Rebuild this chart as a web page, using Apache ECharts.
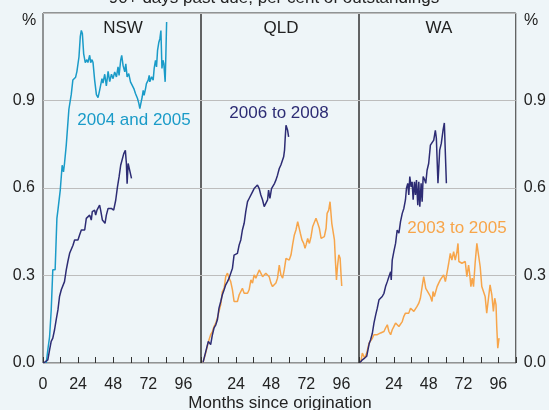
<!DOCTYPE html>
<html>
<head>
<meta charset="utf-8">
<script src="https://cdn.jsdelivr.net/npm/echarts@6/dist/echarts.min.js"></script>
<style>
  html, body { margin: 0; padding: 0; background: #eef5f8; }
  #chart { width: 549px; height: 410px; }
</style>
</head>
<body>
<div id="chart"></div>
<script>
// [months since origination, per cent]
var nswEarly = [
  [2.2, 0], [3.3, 0.045], [4.5, 0.09], [5.6, 0.18], [6.7, 0.32], [8.3, 0.32], [9.5, 0.496],
  [10.2, 0.524], [11.8, 0.593], [13.1, 0.678], [14, 0.655], [14.7, 0.684], [15.9, 0.747],
  [17.7, 0.87], [19.3, 0.92], [20.4, 0.97], [22.3, 0.98], [23.2, 1.0], [24.6, 1.05],
  [25.5, 1.12], [26.2, 1.14], [26.9, 1.13], [27.8, 1.06], [28.9, 1.03], [30, 1.04],
  [30.7, 1.03], [31.9, 1.055], [32.6, 1.03], [33.5, 1.04], [34.2, 1.03], [35.3, 0.97],
  [36.5, 0.92], [37.6, 0.91], [38.7, 0.935], [40.3, 0.975], [41, 0.96], [42.2, 0.99],
  [43.3, 0.95], [44.5, 1.0], [45.6, 0.965], [46.8, 0.99], [47.9, 0.975], [49, 0.998],
  [50.2, 0.981], [51.3, 1.015], [52, 0.986], [53.1, 1.038], [53.8, 1.055], [54.7, 1.021],
  [55.9, 0.998], [56.6, 1.026], [57.5, 0.981], [58.6, 0.992], [59.8, 0.964], [60.9, 0.97],
  [62.1, 0.941], [63.2, 0.924], [63.9, 0.93], [64.6, 0.907], [65.5, 0.89], [66.2, 0.872],
  [66.9, 0.89], [67.8, 0.912], [68.5, 0.935], [69.1, 0.918], [70.1, 0.941], [70.7, 0.958],
  [71.9, 0.97], [72.6, 0.986], [73, 0.964], [74.2, 0.981], [75.3, 0.97], [76, 1.01],
  [76.9, 1.038], [77.6, 1.015], [78.3, 1.072], [79.2, 1.1], [79.9, 1.112], [80.6, 1.14],
  [81.3, 1.01], [82, 1.038], [82.6, 1.026], [83.5, 0.964], [84, 1.06], [84.5, 1.169]
];
var nswLate = [
  [0.3, 0], [3.3, 0.011], [4.5, 0.045], [5.6, 0.074], [6.7, 0.085], [7.9, 0.114], [9, 0.148],
  [10.2, 0.182], [11.3, 0.228], [12.5, 0.251], [13.6, 0.256], [14.7, 0.279], [15.9, 0.319],
  [17, 0.348], [18.2, 0.376], [19.3, 0.37], [20.5, 0.404], [21.6, 0.422], [22.7, 0.416],
  [23.9, 0.422], [25, 0.439], [26.2, 0.456], [27.3, 0.45], [28.5, 0.456], [29.6, 0.496],
  [30.7, 0.502], [31.9, 0.507], [33, 0.49], [33.7, 0.519], [34.6, 0.513], [35.3, 0.524],
  [36, 0.507], [36.9, 0.524], [37.6, 0.519], [38.7, 0.541], [39.4, 0.524], [40.6, 0.49],
  [41.7, 0.496], [42.4, 0.479], [43.3, 0.507], [44.5, 0.53], [46.7, 0.53], [48.3, 0.524],
  [49.7, 0.558], [50.9, 0.604], [52, 0.638], [53.1, 0.678], [54.3, 0.678], [55.2, 0.718],
  [56.3, 0.729], [57, 0.684], [57.5, 0.615], [58.2, 0.684], [59.3, 0.678], [60.5, 0.633]
];
var qldLate = [
  [1.4, 0.002], [2.7, 0.028], [3.7, 0.034], [5, 0.074], [6.6, 0.063], [7.8, 0.097], [8.9, 0.12],
  [10.1, 0.131], [11.2, 0.148], [12.3, 0.188], [13.5, 0.211], [14.6, 0.234], [15.8, 0.251],
  [16.9, 0.268], [18.1, 0.279], [19.2, 0.291], [20.3, 0.296], [21.5, 0.325], [22.6, 0.37],
  [23.8, 0.376], [24.9, 0.376], [26.1, 0.405], [27.2, 0.422], [28.3, 0.456], [29.5, 0.479],
  [30.6, 0.519], [31.8, 0.553], [32.9, 0.564], [34.1, 0.564], [35.2, 0.587], [36.3, 0.598],
  [37.5, 0.604], [38.6, 0.61], [39.8, 0.598], [40.9, 0.576], [42.1, 0.559], [43.2, 0.536],
  [44.3, 0.541], [45.5, 0.559], [46.2, 0.593], [47.1, 0.564], [48.2, 0.598], [49.4, 0.598],
  [50.3, 0.616], [51.2, 0.627], [52.3, 0.644], [53.5, 0.667], [54.6, 0.679], [55.8, 0.673],
  [56.5, 0.707], [57.1, 0.73], [57.6, 0.775], [58.1, 0.815], [58.5, 0.821], [59.2, 0.798],
  [59.9, 0.775]
];
var qldEarly = [
  [1.4, 0.002], [3.2, 0.034], [4.3, 0.057], [5.5, 0.08], [6.6, 0.097], [7.8, 0.108], [8.9, 0.125],
  [10.1, 0.137], [11.2, 0.154], [12.3, 0.177], [13.5, 0.2], [14.6, 0.245], [15.8, 0.256],
  [16.9, 0.296], [18.1, 0.308], [19.2, 0.291], [20.3, 0.279], [21.5, 0.251], [22.6, 0.211],
  [23.8, 0.205], [24.9, 0.211], [26.1, 0.234], [27.2, 0.228], [28.3, 0.256], [29.5, 0.239],
  [30.6, 0.245], [31.8, 0.239], [32.9, 0.251], [34.1, 0.285], [35.2, 0.274], [36.3, 0.302],
  [37.5, 0.291], [38.6, 0.296], [39.8, 0.319], [40.9, 0.319], [42.1, 0.296], [43.2, 0.291],
  [44.3, 0.308], [45.5, 0.313], [46.6, 0.296], [47.8, 0.274], [48.9, 0.262], [50.1, 0.262],
  [51.2, 0.274], [52.3, 0.291], [53.5, 0.336], [54.6, 0.302], [55.8, 0.291], [56.9, 0.319],
  [58.1, 0.359], [59.2, 0.353], [60.3, 0.353], [61.5, 0.37], [62.6, 0.405], [63.8, 0.439],
  [64.9, 0.456], [66.1, 0.485], [67.2, 0.485], [67.9, 0.445], [69, 0.422], [70.2, 0.41],
  [71.1, 0.393], [71.8, 0.405], [72.9, 0.427], [74.1, 0.41], [75.2, 0.433], [76.3, 0.467],
  [77.5, 0.462], [78.6, 0.496], [79.8, 0.479], [80.9, 0.462], [82.1, 0.427], [83.2, 0.422],
  [84.3, 0.433], [85.5, 0.462], [86.2, 0.513], [87.3, 0.524], [88.2, 0.553], [89.4, 0.479],
  [90.5, 0.479], [91.2, 0.422], [91.9, 0.348], [92.6, 0.285], [93.3, 0.331], [94.2, 0.371],
  [95.1, 0.359], [95.8, 0.296], [96.2, 0.264]
];
var waLate = [
  [0.7, 0.002], [2.3, 0.011], [3.9, 0.017], [5.3, 0.023], [6.2, 0.046], [7.1, 0.068], [8, 0.08],
  [9.2, 0.102], [10.3, 0.137], [11.5, 0.165], [12.6, 0.188], [13.8, 0.217], [14.9, 0.222],
  [16, 0.228], [17.2, 0.239], [18.3, 0.262], [19.5, 0.279], [20.6, 0.296], [21.8, 0.313],
  [22.2, 0.285], [22.9, 0.353], [24, 0.382], [25.2, 0.41], [26.3, 0.456], [27.5, 0.445],
  [28.6, 0.485], [29.8, 0.513], [30.9, 0.53], [32, 0.559], [32.7, 0.599], [33.6, 0.616],
  [34.3, 0.576], [35, 0.639], [35.9, 0.604], [36.6, 0.621], [37.3, 0.56], [38.2, 0.621],
  [38.9, 0.576], [39.6, 0.627], [40.5, 0.541], [41.2, 0.621], [41.9, 0.536], [42.8, 0.616],
  [43.5, 0.553], [44.2, 0.639], [45.3, 0.627], [46, 0.616], [46.9, 0.661], [48, 0.684],
  [49.2, 0.747], [50.3, 0.753], [51.5, 0.764], [52.6, 0.798], [53.3, 0.77], [54.4, 0.616],
  [55.6, 0.73], [56.7, 0.753], [57.9, 0.798], [58.8, 0.823], [59.5, 0.718], [60.2, 0.616]
];
var waEarly = [
  [1.2, 0.002], [2.3, 0.034], [3.5, 0.04], [3.9, 0.017], [5.3, 0.034], [6.9, 0.068], [8, 0.068],
  [9.2, 0.085], [10.3, 0.097], [11.5, 0.103], [12.6, 0.097], [13.8, 0.091], [14.9, 0.103],
  [16, 0.097], [17.2, 0.108], [18.3, 0.12], [19.5, 0.131], [20.6, 0.108], [21.8, 0.097],
  [22.9, 0.114], [24, 0.125], [25.2, 0.137], [26.3, 0.134], [27.5, 0.125], [28.6, 0.131],
  [29.8, 0.142], [30.9, 0.16], [32, 0.171], [33.2, 0.177], [34.3, 0.171], [35.5, 0.188],
  [36.6, 0.182], [37.8, 0.177], [38.9, 0.182], [40, 0.194], [41.2, 0.205], [42.3, 0.222],
  [43.5, 0.262], [44.6, 0.296], [45.3, 0.302], [46, 0.256], [46.9, 0.251], [48, 0.239],
  [49.2, 0.228], [50.3, 0.211], [51, 0.245], [51.9, 0.228], [52.8, 0.222], [53.8, 0.262],
  [54.9, 0.274], [56, 0.285], [57.2, 0.291], [58.3, 0.302], [59.5, 0.279], [60.6, 0.308],
  [61.8, 0.342], [62.9, 0.376], [64, 0.353], [65.2, 0.382], [66.3, 0.353], [67.5, 0.382],
  [68.2, 0.41], [68.8, 0.348], [69.8, 0.353], [70.9, 0.342], [72, 0.336], [73.2, 0.348],
  [74.3, 0.296], [75.5, 0.336], [76.2, 0.308], [77.1, 0.262], [78, 0.291], [78.9, 0.262],
  [80, 0.342], [81.2, 0.41], [82.3, 0.416], [83.5, 0.33], [84.6, 0.262], [85.8, 0.256],
  [86.9, 0.228], [88, 0.171], [89.2, 0.222], [90.3, 0.268], [91.5, 0.234], [92.6, 0.177],
  [93.5, 0.222], [94.4, 0.2], [94.9, 0.125], [95.6, 0.051], [96.5, 0.085]
];
var panelNames = ["NSW", "QLD", "WA"];

var CYAN = "#1a9bc8";
var NAVY = "#2d2c74";
var ORANGE = "#f7a54a";
var FONT = "Liberation Sans, Arial, sans-serif";

var myChart = echarts.init(document.getElementById("chart"));

var lefts = [43, 201, 359];
var grids = [], xAxes = [], yAxes = [];
for (var i = 0; i < 3; i++) {
  grids.push({
    left: lefts[i], top: 13, width: 158, height: 350,
    show: true, borderColor: "#333", borderWidth: 1, backgroundColor: "transparent"
  });
  xAxes.push({
    type: "value", gridIndex: i, min: 0, max: 108, interval: 12,
    axisLine: { show: false },
    axisTick: { show: true, inside: true, length: 6, lineStyle: { color: "#333" } },
    splitLine: { show: false },
    axisLabel: {
      margin: 14, color: "#222", fontSize: 16, fontFamily: FONT,
      formatter: (function (idx) {
        return function (v) {
          if (v === 0 && idx > 0) return "";
          return v % 24 === 0 && v < 100 ? String(v) : "";
        };
      })(i)
    }
  });
  yAxes.push({
    type: "value", gridIndex: i, min: 0, max: 1.2, interval: 0.3,
    position: i === 2 ? "right" : "left",
    axisLine: { show: false },
    axisTick: { show: false },
    splitLine: { show: true, lineStyle: { color: "#bdbdbd", width: 1 } },
    axisLabel: {
      show: i !== 1, margin: 8, color: "#222", fontSize: 16, fontFamily: FONT,
      formatter: function (v) { return v > 1.1 ? "" : v.toFixed(1); }
    }
  });
}

function line(data, idx, color) {
  return {
    type: "line", xAxisIndex: idx, yAxisIndex: idx, data: data,
    showSymbol: false, lineStyle: { color: color, width: 1.5 }, silent: true
  };
}

function txt(x, y, s, color, size) {
  return {
    type: "text", x: x, y: y, silent: true,
    style: { text: s, fill: color, font: size + "px " + FONT, align: "center", verticalAlign: "middle" }
  };
}

var option = {
  backgroundColor: "#eef5f8",
  animation: false,
  grid: grids,
  xAxis: xAxes,
  yAxis: yAxes,
  series: [
    line(nswEarly, 0, CYAN),
    line(nswLate, 0, NAVY),
    line(qldEarly, 1, ORANGE),
    line(qldLate, 1, NAVY),
    line(waEarly, 2, ORANGE),
    line(waLate, 2, NAVY)
  ],
  graphic: [
    txt(274, -2, "90+ days past due, per cent of outstandings", "#222", 17),
    txt(29, 21, "%", "#222", 16),
    txt(531, 21, "%", "#222", 16),
    txt(123, 28, panelNames[0], "#222", 17),
    txt(281, 28, panelNames[1], "#222", 17),
    txt(439, 28, panelNames[2], "#222", 17),
    txt(134, 120, "2004 and 2005", CYAN, 17),
    txt(279, 113, "2006 to 2008", NAVY, 17),
    txt(457, 228, "2003 to 2005", ORANGE, 17),
    txt(280, 403, "Months since origination", "#222", 17)
  ]
};
myChart.setOption(option);
</script>
</body>
</html>
